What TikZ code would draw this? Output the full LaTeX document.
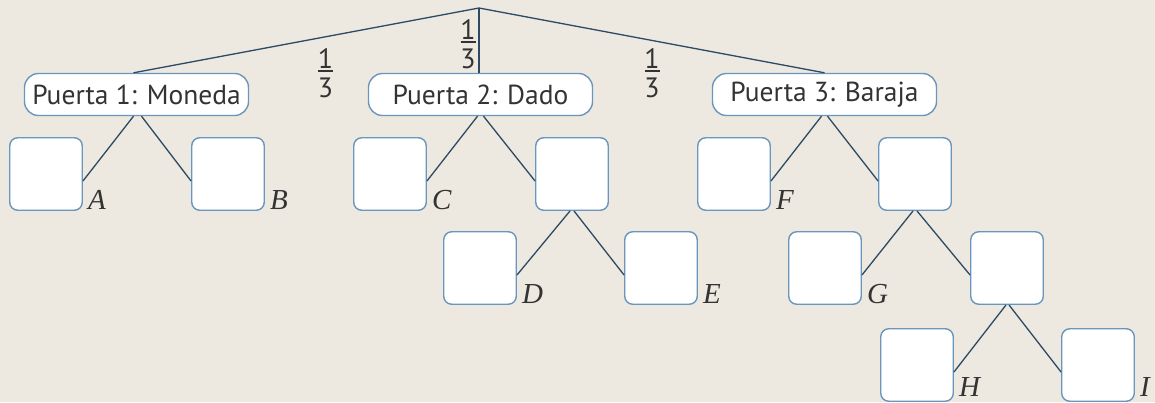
\documentclass[tikz,border=0pt]{standalone}
\usepackage{fontspec}
\setmainfont{PT Sans}
\newfontfamily\lblfont{Liberation Serif}
\usetikzlibrary{calc}
\definecolor{bg}{HTML}{EDE9E0}
\definecolor{ln}{HTML}{2C4A63}
\definecolor{bd}{HTML}{6A95BC}
\definecolor{tx}{HTML}{333333}
\tikzset{
 door/.style={draw=bd, line width=1.4pt, fill=white, rounded corners=14pt, minimum width=224pt, minimum height=42pt, inner sep=0pt, text=tx, font=\fontsize{27.5}{27.5}\selectfont},
 sq/.style={draw=bd, line width=1.4pt, fill=white, rounded corners=8pt, minimum size=72.5pt, inner sep=0pt},
 br/.style={draw=ln, line width=1.3pt},
 lbl/.style={anchor=base west, font=\lblfont\itshape\fontsize{29}{29}\selectfont, text=tx, inner sep=0pt},
 frac/.style={anchor=base, text=tx, font=\fontsize{28}{28}\selectfont, inner sep=0pt}
}
\begin{document}
\begin{tikzpicture}[x=1pt,y=-1pt]
\fill[bg] (0,0) rectangle (1155,402);
\useasboundingbox (0,0) rectangle (1155,402);
\coordinate (root) at (479,8);
% doors
\node[door] (p1) at (136.5,94.5) {Puerta 1: Moneda};
\node[door] (p2) at (480.5,94.5) {Puerta 2: Dado};
\node[door] (p3) at (824.5,94.5) {Puerta 3: Baraja};
% squares
\node[sq] (A) at (46,174) {};
\node[sq] (B) at (228,174) {};
\node[sq] (C) at (390,174) {};
\node[sq] (Dp) at (572,174) {};
\node[sq] (F) at (734,174) {};
\node[sq] (Gp) at (915,174) {};
\node[sq] (D) at (480,268) {};
\node[sq] (E) at (661,268) {};
\node[sq] (G) at (825,268) {};
\node[sq] (Hp) at (1007,268) {};
\node[sq] (H) at (917,365) {};
\node[sq] (I) at (1098,365) {};
% top lines
\draw[br] (root) -- ($(p1.north)+(-3,0)$);
\draw[br] (root) -- (p2.north -| root);
\draw[br] (root) -- (p3.north);
% door branches
\draw[br] ($(p1.south)+(-3,0)$) -- ($(A.east)+(0,7)$);
\draw[br] ($(p1.south)+(5,0)$) -- ($(B.west)+(0,7)$);
\draw[br] ($(p2.south)+(-3,0)$) -- ($(C.east)+(0,7)$);
\draw[br] ($(p2.south)+(3,0)$) -- ($(Dp.west)+(0,7)$);
\draw[br] ($(p3.south)+(-3,0)$) -- ($(F.east)+(0,7)$);
\draw[br] ($(p3.south)+(3,0)$) -- ($(Gp.west)+(0,7)$);
% square branches
\draw[br] ($(Dp.south)+(-2,0)$) -- ($(D.east)+(0,7)$);
\draw[br] ($(Dp.south)+(2,0)$) -- ($(E.west)+(0,7)$);
\draw[br] ($(Gp.south)+(-2,0)$) -- ($(G.east)+(0,7)$);
\draw[br] ($(Gp.south)+(2,0)$) -- ($(Hp.west)+(0,7)$);
\draw[br] ($(Hp.south)+(-1,0)$) -- ($(H.east)+(0,7)$);
\draw[br] ($(Hp.south)+(2,0)$) -- ($(I.west)+(0,7)$);
% labels
\node[lbl] (lA) at ($(A.south east)+(5,-1)$) {A};
\node[lbl] (lB) at ($(B.south east)+(5,-1)$) {B};
\node[lbl] (lC) at ($(C.south east)+(5,-1)$) {C};
\node[lbl] (lD) at ($(D.south east)+(5,-1)$) {D};
\node[lbl] (lE) at ($(E.south east)+(5,-1)$) {E};
\node[lbl] (lF) at ($(F.south east)+(5,-1)$) {F};
\node[lbl] (lG) at ($(G.south east)+(5,-1)$) {G};
\node[lbl] (lH) at ($(H.south east)+(5,-5)$) {H};
\node[lbl] (lI) at ($(I.south east)+(5,-5)$) {I};
% fractions
\node[frac] (f1n) at (325.5,68) {1};
\node[frac] (f1d) at (325.5,97) {3};
\draw[tx, line width=1.5pt] (318,71) -- (333,71);
\node[frac] (f2n) at (468,39) {1};
\node[frac] (f2d) at (468,68) {3};
\draw[tx, line width=1.5pt] (460.5,42) -- (475.5,42);
\node[frac] (f3n) at (652,68) {1};
\node[frac] (f3d) at (652,97) {3};
\draw[tx, line width=1.5pt] (644.5,71) -- (659.5,71);
\end{tikzpicture}
\end{document}
